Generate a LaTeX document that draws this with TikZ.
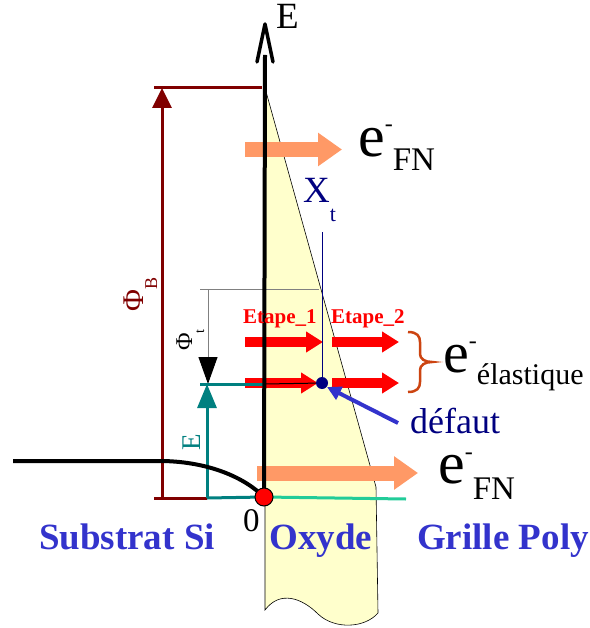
\documentclass[tikz,border=0pt]{standalone}
\usepackage{xcolor}
\usepackage{fontspec}
\setmainfont{Liberation Serif}
\usepackage{tikz}
\usetikzlibrary{calc,arrows.meta}
\definecolor{bdoxyde}{HTML}{FFFFCC}
\definecolor{bdphib}{HTML}{800000}
\definecolor{bdteal}{HTML}{008080}
\definecolor{bdorange}{HTML}{FF9966}
\definecolor{bdnavy}{HTML}{000080}
\definecolor{bdblue}{HTML}{3333CC}
\definecolor{bdbrace}{HTML}{CC4411}
\definecolor{bdgreen}{HTML}{22CC99}
\newcommand{\fsz}[1]{\fontsize{#1}{#1}\selectfont}

\begin{document}
\begin{tikzpicture}[x=1pt, y=-1pt,
    fnarrow/.style={bdorange, line width=15pt, -{Triangle[length=24pt,width=32pt]}},
    etapearrow/.style={red, line width=10pt, -{Triangle[length=17pt,width=20pt]}},
    txt/.style={anchor=base west, inner sep=0pt},
    zonelabel/.style={bdblue, font=\fsz{37}\bfseries, anchor=base, inner sep=0pt}]
  \useasboundingbox (0,0) rectangle (589,628);

  \coordinate (O) at (264,497);
  \coordinate (Etop) at (265,55);
  \coordinate (Xt) at (322,383);
  \coordinate (XtTop) at (322,232);
  \coordinate (pbBase) at (162,498);
  \coordinate (pbTop) at (162,88);
  \coordinate (eBase) at (207,498);
  \coordinate (eTop) at (207,384);
  \coordinate (ptTop) at (208,289);
  \coordinate (ptTip) at (208,384);

  % oxyde
  \filldraw[fill=bdoxyde, draw=black, line width=0.6pt]
    (265,88) -- (376,487) -- (378,613)
    .. controls (365,628) and (335,630) .. (318,614)
    .. controls (302,598) and (280,590) .. (265,610) -- cycle;

  % electrons
  \draw[fnarrow] (245,149.5) -- (342,149.5);
  \draw[fnarrow] (257,473) -- (418,473);
  \draw[etapearrow] (245,342) -- (323,342);
  \draw[etapearrow] (332,342) -- (399,342);
  \draw[etapearrow] (245,383) -- (318,383);
  \draw[etapearrow] (332,383) -- (399,383);

  % barriers
  \draw[bdphib, line width=3pt] (154,88) -- (262,88);
  \draw[bdphib, line width=3pt] (154,498) -- (eBase);
  \draw[bdphib, line width=3pt, -{Triangle[length=20pt,width=19pt]}] (pbBase) -- (pbTop);
  \draw[gray, line width=1pt] (200,289) -- (319,289);
  \draw[gray, line width=1pt, -{Triangle[length=27pt,width=19pt,color=black]}] (ptTop) -- (ptTip);
  \draw[bdteal, line width=3pt] (eBase) -- (O);
  \draw[bdteal, line width=3pt] (200,384) -- (265,384);
  \draw[bdteal, line width=3pt, -{Triangle[length=24pt,width=19pt]}] (eBase) -- (eTop);
  \draw[black, line width=1pt] (265,384) -- (Xt);
  \draw[bdnavy, line width=1pt] (XtTop) -- (Xt);
  \draw[bdgreen, line width=3pt] (O) -- (406,499);

  % band
  \draw[line width=4pt] (13,461) -- (163,461)
    .. controls (210,462) and (245,478) .. (O);

  % axis
  \draw[line width=4pt] (O) -- (Etop);
  \draw[line width=3.5pt, line join=round, line cap=round] (257,62) -- (265,24) -- (273,62);
  \draw[fill=red, line width=1pt] (O) circle (9pt);
  \fill[bdnavy] (Xt) circle (6pt);

  \draw[bdblue, line width=4pt, -{Triangle[length=14pt,width=14pt]}] (398,423) -- (327,387);
  \draw[bdbrace, line width=2.5pt]
    (408,332) .. controls (417,332) and (420,336) .. (420,342) -- (420,354)
    .. controls (420,359) and (425,362) .. (432,362)
    .. controls (425,362) and (420,365) .. (420,370) -- (420,382)
    .. controls (420,388) and (417,392) .. (408,392);

  % labels
  \node[txt, font=\fsz{37}] (Elabel) at (276,29) {E};
  \node[txt, rotate=90, text=bdphib] (phiB) at (143,312) {\fsz{30}Φ\fsz{18}\raisebox{-14pt}{B}};
  \node[txt, rotate=90] (phit) at (192,351) {\fsz{24}Φ\fsz{14}\raisebox{-12pt}{t}};
  \node[txt, rotate=90, text=bdteal, font=\fsz{27}] (Elab) at (200,451) {E};
  \node[txt, text=bdnavy] (xt) at (303,203) {\fsz{37}X\fsz{22}\raisebox{-19pt}{t}};
  \node[txt, text=red, font=\fsz{21}\bfseries] (etape1) at (243,323) {Etape\_1};
  \node[txt, text=red, font=\fsz{21}\bfseries] (etape2) at (331,323) {Etape\_2};
  \node[txt, text=bdnavy, font=\fsz{36}] (defaut) at (410,433) {défaut};
  \node[txt, font=\fsz{33}] (zero) at (243,531) {0};
  \node[txt] (efnA) at (358,157) {\fsz{60}e\fsz{24}\raisebox{25pt}{-}\fsz{33}\raisebox{-14pt}{FN}};
  \node[txt] (efnB) at (438,483) {\fsz{60}e\fsz{24}\raisebox{24pt}{-}\fsz{33}\raisebox{-16pt}{FN}};
  \node[txt] (eel) at (443,372) {\fsz{58}e\fsz{24}\raisebox{24pt}{-}\fsz{30}\raisebox{-12pt}{élastique}};
  \node[zonelabel] (substrat) at (127,549) {Substrat Si};
  \node[zonelabel] (oxyde) at (321,549) {Oxyde};
  \node[zonelabel] (grille) at (503,549) {Grille Poly};
\end{tikzpicture}
\end{document}
